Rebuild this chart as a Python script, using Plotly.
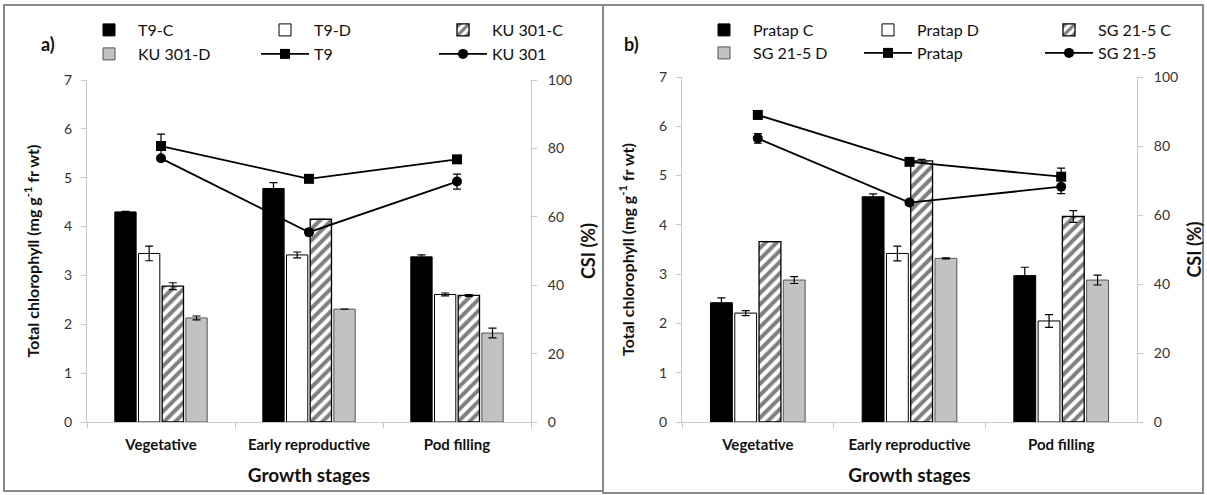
import plotly.graph_objects as go

# ---------------- data ----------------
stages = ["Vegetative", "Early reproductive", "Pod filling"]

# panel a (left axis: total chlorophyll)
a_names = ["T9-C", "T9-D", "KU 301-C", "KU 301-D"]
t9_c = [4.30, 4.78, 3.38]
t9_c_err = [0.01, 0.12, 0.04]
t9_d = [3.45, 3.42, 2.61]
t9_d_err = [0.15, 0.06, 0.03]
ku_c = [2.78, 4.15, 2.59]
ku_c_err = [0.07, 0.0, 0.02]
ku_d = [2.13, 2.31, 1.82]
ku_d_err = [0.04, 0.0, 0.10]
# panel a (right axis: CSI %)
a_line_names = ["T9", "KU 301"]
csi_t9 = [80.7, 71.1, 76.8]
csi_t9_err = [3.5, 0.8, 0.8]
csi_ku = [77.1, 55.5, 70.3]
csi_ku_err = [0.8, 1.0, 2.2]

# panel b
b_names = ["Pratap C", "Pratap D", "SG 21-5 C", "SG 21-5 D"]
pr_c = [2.42, 4.57, 2.97]
pr_c_err = [0.10, 0.06, 0.17]
pr_d = [2.21, 3.42, 2.05]
pr_d_err = [0.05, 0.15, 0.13]
sg_c = [3.66, 5.30, 4.17]
sg_c_err = [0.0, 0.03, 0.12]
sg_d = [2.88, 3.32, 2.88]
sg_d_err = [0.07, 0.01, 0.10]
b_line_names = ["Pratap", "SG 21-5"]
csi_pr = [89.0, 75.4, 71.1]
csi_pr_err = [0.8, 1.0, 2.5]
csi_sg = [82.2, 63.6, 68.2]
csi_sg_err = [1.4, 0.8, 2.0]

left_ticks = [0, 1, 2, 3, 4, 5, 6, 7]
right_ticks = [0, 20, 40, 60, 80, 100]

# ---------------- styling ----------------
FONT = "Lato"
W, H = 1207, 495
BLACK = "#000000"
GRAY = "#c2c2c2"
AXIS = "#c8c8c8"


def px_x(p):
    return p / W


def px_y(p):
    return 1 - p / H


fig = go.Figure()


def err(vals):
    return dict(type="data", array=vals, color=BLACK, thickness=1.2, width=4, visible=True)


def bar_styles():
    return [
        dict(marker=dict(color=BLACK, line=dict(color=BLACK, width=1))),
        dict(marker=dict(color="white", line=dict(color=BLACK, width=1))),
        dict(marker=dict(color="white", line=dict(color=BLACK, width=1.3),
                         pattern=dict(shape="/", fgcolor=BLACK, bgcolor="white",
                                      size=8, solidity=0.5))),
        dict(marker=dict(color=GRAY, line=dict(color="#555555", width=1))),
    ]


def add_panel(xa, ya, ya2, names, series, errs, line_names, lines, line_errs, legs):
    # legs: six legend ids, in reading order of the 2x3 legend grid
    styles = bar_styles()
    for i in range(4):
        fig.add_trace(go.Bar(
            x=stages, y=series[i], name=names[i], error_y=err(errs[i]),
            xaxis=xa, yaxis=ya, legend=legs[i], offsetgroup=str(i),
            **styles[i]))
    symbols = ["square", "circle"]
    for j in range(2):
        fig.add_trace(go.Scatter(
            x=stages, y=lines[j], name=line_names[j], mode="lines+markers",
            line=dict(color=BLACK, width=1.8),
            marker=dict(symbol=symbols[j], size=10, color=BLACK),
            error_y=err(line_errs[j]),
            xaxis=xa, yaxis=ya2, legend=legs[4 + j]))


legs_a = ["legend", "legend2", "legend3", "legend4", "legend5", "legend6"]
legs_b = ["legend7", "legend8", "legend9", "legend10", "legend11", "legend12"]

add_panel("x", "y", "y2", a_names,
          [t9_c, t9_d, ku_c, ku_d], [t9_c_err, t9_d_err, ku_c_err, ku_d_err],
          a_line_names, [csi_t9, csi_ku], [csi_t9_err, csi_ku_err], legs_a)
add_panel("x2", "y3", "y4", b_names,
          [pr_c, pr_d, sg_c, sg_d], [pr_c_err, pr_d_err, sg_c_err, sg_d_err],
          b_line_names, [csi_pr, csi_sg], [csi_pr_err, csi_sg_err], legs_b)

tickfont = dict(family=FONT, size=14, color="#333333")


def xaxis(dom, anchor):
    return dict(domain=dom, anchor=anchor, type="category",
                showline=True, linecolor=AXIS, linewidth=1,
                ticks="outside", tickson="boundaries", ticklen=5, tickcolor=AXIS,
                ticklabelstandoff=9,
                tickfont=dict(family=FONT, size=15, color="#111111", weight="bold"),
                title=dict(text="<b>Growth stages</b>",
                           font=dict(family=FONT, size=19, color="#111111"), standoff=16),
                showgrid=False, zeroline=False, automargin=False)


def yleft(dom, anchor):
    return dict(domain=dom, anchor=anchor, range=[0, 7], tickvals=left_ticks,
                showline=True, linecolor=AXIS, linewidth=1,
                ticks="outside", ticklen=5, tickcolor=AXIS, tickfont=tickfont,
                ticklabelstandoff=6,
                title=dict(text="<b>Total chlorophyll (mg g<sup>-1</sup> fr wt)</b>",
                           font=dict(family=FONT, size=16, color="#111111"), standoff=20),
                showgrid=False, zeroline=False, automargin=False)


def yright(overlay, anchor):
    return dict(overlaying=overlay, anchor=anchor, side="right", range=[0, 100],
                tickvals=right_ticks,
                showline=True, linecolor=AXIS, linewidth=1,
                ticks="outside", ticklen=5, tickcolor=AXIS, tickfont=tickfont,
                ticklabelstandoff=8,
                title=dict(text="<b>CSI (%)</b>",
                           font=dict(family=FONT, size=18, color="#111111"), standoff=11),
                showgrid=False, zeroline=False, automargin=False)


xa_dom = [px_x(87), px_x(531)]
xb_dom = [px_x(682), px_x(1137)]
ya_dom = [px_y(422), px_y(80)]
yb_dom = [px_y(422), px_y(77)]


def legend(text_x, yp):
    return dict(x=px_x(text_x - 60), y=px_y(yp), xanchor="left", yanchor="middle",
                orientation="h", itemwidth=48, bgcolor="rgba(0,0,0,0)", borderwidth=0,
                font=dict(family=FONT, size=16, color="#111111"))


# legend grid: text start x of each column, y of each row
cols_a, rows_a = [140, 316, 494], [30, 54]
cols_b, rows_b = [755, 919, 1100], [30, 53]

legend_layout = {}
for k in range(6):
    legend_layout[legs_a[k]] = legend(cols_a[k % 3], rows_a[k // 3])
    legend_layout[legs_b[k]] = legend(cols_b[k % 3], rows_b[k // 3])

fig.update_layout(
    width=W, height=H, autosize=False,
    margin=dict(l=0, r=0, t=0, b=0),
    paper_bgcolor="white", plot_bgcolor="white",
    barmode="group", bargap=0.36, bargroupgap=0.1,
    font=dict(family=FONT, color="#111111"),
    xaxis=xaxis(xa_dom, "y"),
    yaxis=yleft(ya_dom, "x"),
    yaxis2=yright("y", "x"),
    xaxis2=xaxis(xb_dom, "y3"),
    yaxis3=yleft(yb_dom, "x2"),
    yaxis4=yright("y3", "x2"),
    showlegend=True,
    **legend_layout,
)

# panel frames
fig.add_shape(type="rect", xref="paper", yref="paper",
              x0=px_x(4), x1=px_x(603), y0=px_y(491), y1=px_y(5),
              line=dict(color="#8a8a8a", width=2), fillcolor="rgba(0,0,0,0)", layer="below")
fig.add_shape(type="rect", xref="paper", yref="paper",
              x0=px_x(603), x1=px_x(1203), y0=px_y(493), y1=px_y(5),
              line=dict(color="#8a8a8a", width=2), fillcolor="rgba(0,0,0,0)", layer="below")

# panel letters
fig.add_annotation(text="<b>a)</b>", x=px_x(39), y=px_y(31), xref="paper", yref="paper",
                   showarrow=False, font=dict(family=FONT, size=18, color="#111111"))
fig.add_annotation(text="<b>b)</b>", x=px_x(632), y=px_y(31), xref="paper", yref="paper",
                   showarrow=False, font=dict(family=FONT, size=18, color="#111111"))

fig.write_html(
    "out.html",
    config=dict(responsive=False, displayModeBar=False),
    post_script="document.body.style.margin='0px';document.body.style.overflow='hidden';",
)
